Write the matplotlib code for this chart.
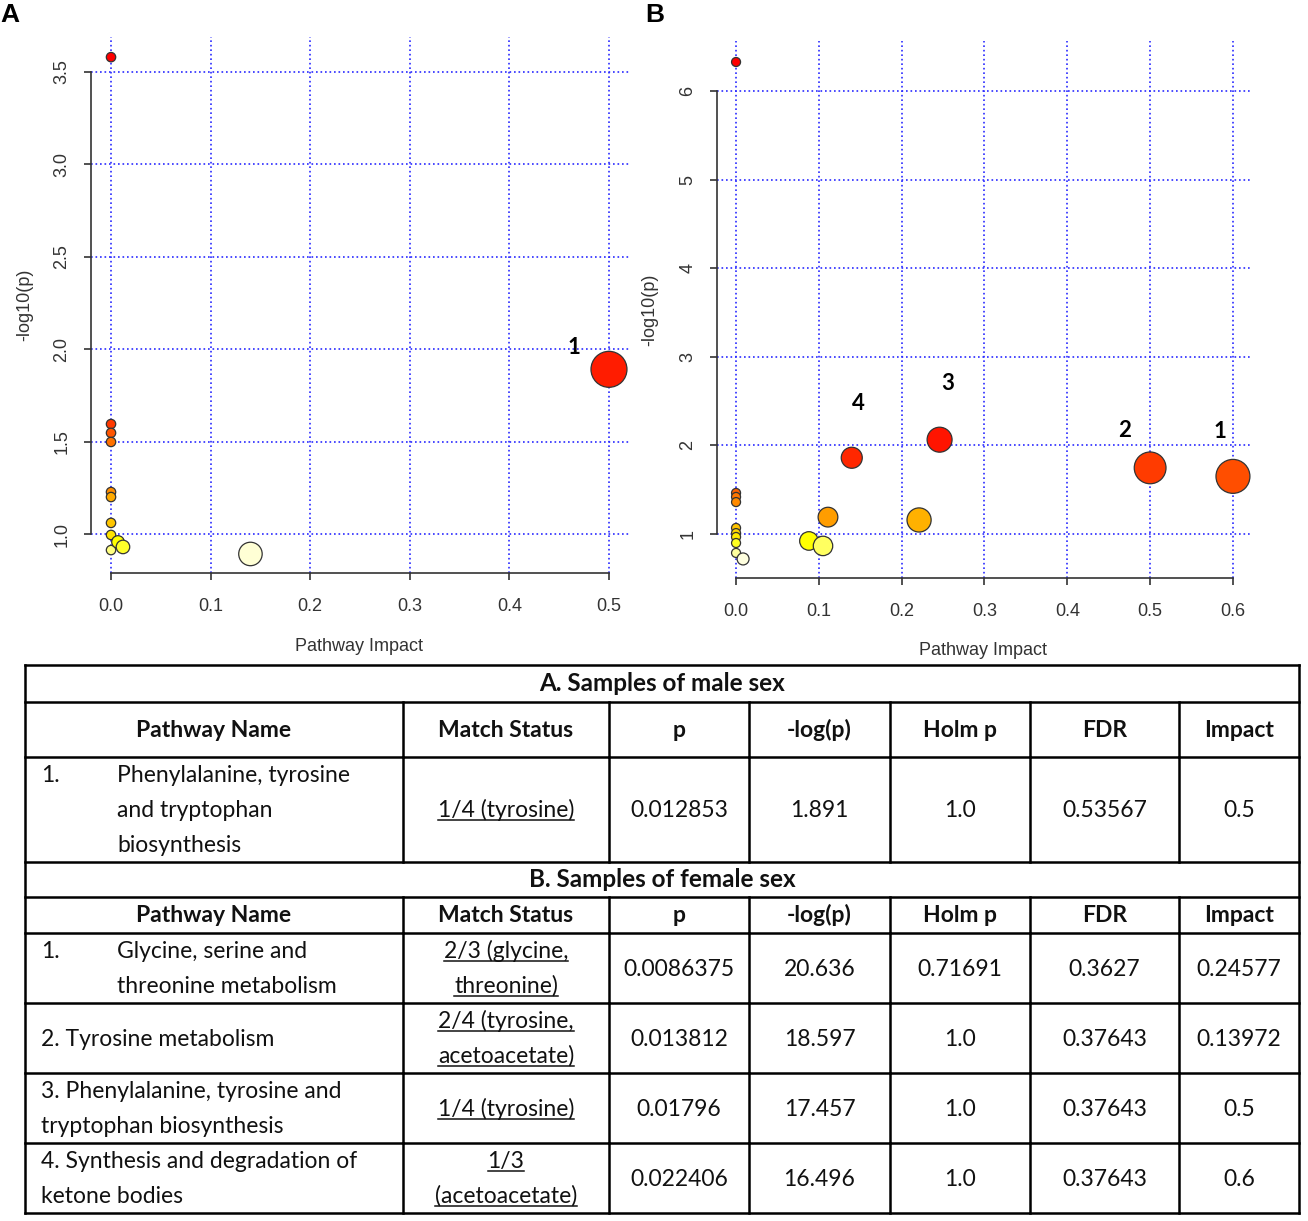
import colorsys
import numpy as np
import matplotlib
matplotlib.use("Agg")
import matplotlib.pyplot as plt

# ---- panel data ----
a_impact = [0, 0, 0, 0, 0, 0, 0, 0, 0, 0.007, 0.012, 0.14, 0.5]
a_logp = [3.58, 1.595, 1.547, 1.498, 1.227, 1.200, 1.060, 0.995, 0.913, 0.957, 0.930, 0.892, 1.891]
a_labels = {12: "1"}

b_impact = [0, 0, 0, 0, 0, 0, 0, 0, 0, 0.0085, 0.088, 0.105, 0.111, 0.13972, 0.221, 0.24577, 0.5, 0.6]
b_logp = [6.327, 1.463, 1.418, 1.36, 1.068, 1.01, 0.966, 0.898, 0.786, 0.718, 0.921, 0.865,
          1.19, 1.860, 1.158, 2.064, 1.746, 1.650]
b_labels = {13: "4", 15: "3", 16: "2", 17: "1"}

# ---- table data ----
col_names = ["Pathway Name", "Match Status", "p", "-log(p)", "Holm p", "FDR", "Impact"]
title_a = "A. Samples of male sex"
title_b = "B. Samples of female sex"
a_rows = [
    (["1.", "Phenylalanine, tyrosine", "and tryptophan", "biosynthesis"], ["1/4 (tyrosine)"],
     "0.012853", "1.891", "1.0", "0.53567", "0.5"),
]
b_rows = [
    (["1.", "Glycine, serine and", "threonine metabolism"], ["2/3 (glycine,", "threonine)"],
     "0.0086375", "20.636", "0.71691", "0.3627", "0.24577"),
    (["2. Tyrosine metabolism"], ["2/4 (tyrosine,", "acetoacetate)"],
     "0.013812", "18.597", "1.0", "0.37643", "0.13972"),
    (["3. Phenylalanine, tyrosine and", "tryptophan biosynthesis"], ["1/4 (tyrosine)"],
     "0.01796", "17.457", "1.0", "0.37643", "0.5"),
    (["4. Synthesis and degradation of", "ketone bodies"], ["1/3", "(acetoacetate)"],
     "0.022406", "16.496", "1.0", "0.37643", "0.6"),
]

W, H = 1308, 1221
DPI = 100
PX = 72.0 / DPI  # points per pixel


def heat_colors(n):
    # same as R's heat.colors()
    j = n // 4
    i = n - j
    cols = [colorsys.hsv_to_rgb(h, 1, 1) for h in np.linspace(0, 1 / 6, i)]
    if j > 0:
        for s in np.linspace(1 - 1 / (2 * j), 1 / (2 * j), j):
            cols.append(colorsys.hsv_to_rgb(1 / 6, s, 1))
    return cols


def rank_colors(logp):
    order = np.argsort(-np.array(logp), kind="stable")
    pal = heat_colors(len(logp))
    cols = [None] * len(logp)
    for r, idx in enumerate(order):
        cols[idx] = pal[r]
    return cols


def bubble_plot(ax, impact, logp, labels, offsets, r0, k, xlim, ylim, xticks, yticks):
    radius = r0 + k * np.sqrt(np.array(impact))
    sizes = (2 * radius * PX) ** 2
    ax.set_xlim(*xlim)
    ax.set_ylim(*ylim)
    for x in xticks:
        ax.axvline(x, color="#2a2aff", lw=1.2, ls=(0, (1, 1.7)), zorder=1)
    for y in yticks:
        ax.axhline(y, color="#2a2aff", lw=1.2, ls=(0, (1, 1.7)), zorder=1)
    ax.scatter(impact, logp, s=sizes, c=rank_colors(logp), edgecolors="#333333",
               linewidths=0.9, zorder=3, clip_on=False)
    for idx, lab in labels.items():
        dx, dy = offsets[idx]
        ax.annotate(lab, (impact[idx], logp[idx]), xytext=(dx * PX, dy * PX),
                    textcoords="offset points", ha="center", va="center",
                    fontsize=16, fontweight="bold", family="Lato", zorder=4)
    for s in ["top", "right"]:
        ax.spines[s].set_visible(False)
    ax.spines["left"].set_bounds(yticks[0], yticks[-1])
    ax.spines["bottom"].set_bounds(xticks[0], xticks[-1])
    for s in ["left", "bottom"]:
        ax.spines[s].set_color("#333333")
        ax.spines[s].set_linewidth(1.2)
    ax.set_xticks(xticks)
    ax.set_yticks(yticks)
    ax.tick_params(length=5, width=1.2, color="#333333", labelcolor="#333333",
                   labelsize=13)
    ax.tick_params(axis="x", pad=13)
    ax.tick_params(axis="y", pad=10)
    ax.set_xticklabels(["%.1f" % v for v in xticks])
    ax.set_yticklabels(["%.1f" % v if isinstance(v, float) else str(v) for v in yticks],
                       rotation=90, va="center")
    ax.set_xlabel("Pathway Impact", fontsize=13, color="#333333")
    ax.set_ylabel("-log10(p)", fontsize=13, color="#333333")


plt.rcParams["font.family"] = ["Liberation Sans", "DejaVu Sans"]
fig = plt.figure(figsize=(W / DPI, H / DPI), dpi=DPI)


def px_axes(l, t, r, b):
    return fig.add_axes([l / W, 1 - b / H, (r - l) / W, (b - t) / H])


ax_a = px_axes(91, 37, 629, 573)
bubble_plot(ax_a, a_impact, a_logp, a_labels, {12: (-35, 22)}, 4.7, 18.8,
            (-0.0201, 0.5201), (0.789, 3.689),
            [0.0, 0.1, 0.2, 0.3, 0.4, 0.5], [1.0, 1.5, 2.0, 2.5, 3.0, 3.5])
ax_a.xaxis.set_label_coords((359 - 91) / 538, (573 - 638) / 536)
ax_a.yaxis.set_label_coords((33 - 91) / 538, 0.5)

ax_b = px_axes(717, 41, 1252, 578)
bubble_plot(ax_b, b_impact, b_logp, b_labels,
            {13: (7, 54), 15: (8, 56), 16: (-26, 37), 17: (-13, 45)}, 4.5, 16.1,
            (-0.023, 0.623), (0.503, 6.564),
            [0.0, 0.1, 0.2, 0.3, 0.4, 0.5, 0.6], [1, 2, 3, 4, 5, 6])
ax_b.xaxis.set_label_coords((983 - 717) / 535, (578 - 642) / 537)
ax_b.yaxis.set_label_coords((658 - 717) / 535, 0.5)

fig.text(10 / W, 1 - 15 / H, "A", fontsize=19, fontweight="bold", ha="center", va="center")
fig.text(655 / W, 1 - 15 / H, "B", fontsize=19, fontweight="bold", ha="center", va="center")

# ---- table ----
tab = fig.add_axes([0, 0, 1, 1])
tab.set_xlim(0, W)
tab.set_ylim(H, 0)
tab.axis("off")

col_x = [25, 403, 609, 749, 890, 1030, 1179, 1299]
row_y = [665, 702, 757, 862, 897, 933, 1003, 1073, 1143, 1213]
title_rows = [0, 3]
LW = 1.8
TF = 16.5
LINE = 35
BASE = 7.5  # baseline below line centre, px

for y in row_y:
    tab.plot([col_x[0], col_x[-1]], [y, y], color="black", lw=LW, solid_capstyle="projecting")
tab.plot([col_x[0]] * 2, [row_y[0], row_y[-1]], color="black", lw=LW)
tab.plot([col_x[-1]] * 2, [row_y[0], row_y[-1]], color="black", lw=LW)
for r in range(len(row_y) - 1):
    if r in title_rows:
        continue
    for x in col_x[1:-1]:
        tab.plot([x, x], [row_y[r], row_y[r + 1]], color="black", lw=LW)

underlines = []


def put(x, yc, s, ha="center", bold=False, underline=False, size=TF):
    t = tab.text(x, yc + BASE, s, ha=ha, va="baseline", fontsize=size, family="Lato",
                 fontweight="bold" if bold else "normal", color="#111111")
    if underline:
        underlines.append((t, yc + BASE + 3))


def put_lines(x, top, bottom, lines, ha="center", underline=False):
    yc = (top + bottom) / 2
    n = len(lines)
    for i, s in enumerate(lines):
        put(x, yc + (i - (n - 1) / 2) * LINE, s, ha=ha, underline=underline)


def centres():
    return [(col_x[i] + col_x[i + 1]) / 2 for i in range(len(col_x) - 1)]


def header(top, bottom):
    for cx, name in zip(centres(), col_names):
        put(cx, (top + bottom) / 2, name, bold=True)


def data_row(top, bottom, row):
    name, match = row[0], row[1]
    if name[0] == "1.":
        put(41, (top + bottom) / 2 - (len(name) - 2) * LINE / 2, "1.", ha="left")
        put_lines(117, top, bottom, name[1:], ha="left")
    else:
        put_lines(41, top, bottom, name, ha="left")
    cs = centres()
    put_lines(cs[1], top, bottom, match, underline=True)
    for cx, v in zip(cs[2:], row[2:]):
        put(cx, (top + bottom) / 2, v)


put((col_x[0] + col_x[-1]) / 2, (row_y[0] + row_y[1]) / 2, title_a, bold=True, size=17.5)
header(row_y[1], row_y[2])
data_row(row_y[2], row_y[3], a_rows[0])
put((col_x[0] + col_x[-1]) / 2, (row_y[3] + row_y[4]) / 2, title_b, bold=True, size=17.5)
header(row_y[4], row_y[5])
for i, row in enumerate(b_rows):
    data_row(row_y[5 + i], row_y[6 + i], row)

fig.canvas.draw()
rend = fig.canvas.get_renderer()
inv = tab.transData.inverted()
for t, yu in underlines:
    bb = t.get_window_extent(rend)
    x0 = inv.transform((bb.x0, 0))[0]
    x1 = inv.transform((bb.x1, 0))[0]
    tab.plot([x0, x1], [yu, yu], color="#111111", lw=1.1)

fig.savefig("out.png", dpi=DPI)
